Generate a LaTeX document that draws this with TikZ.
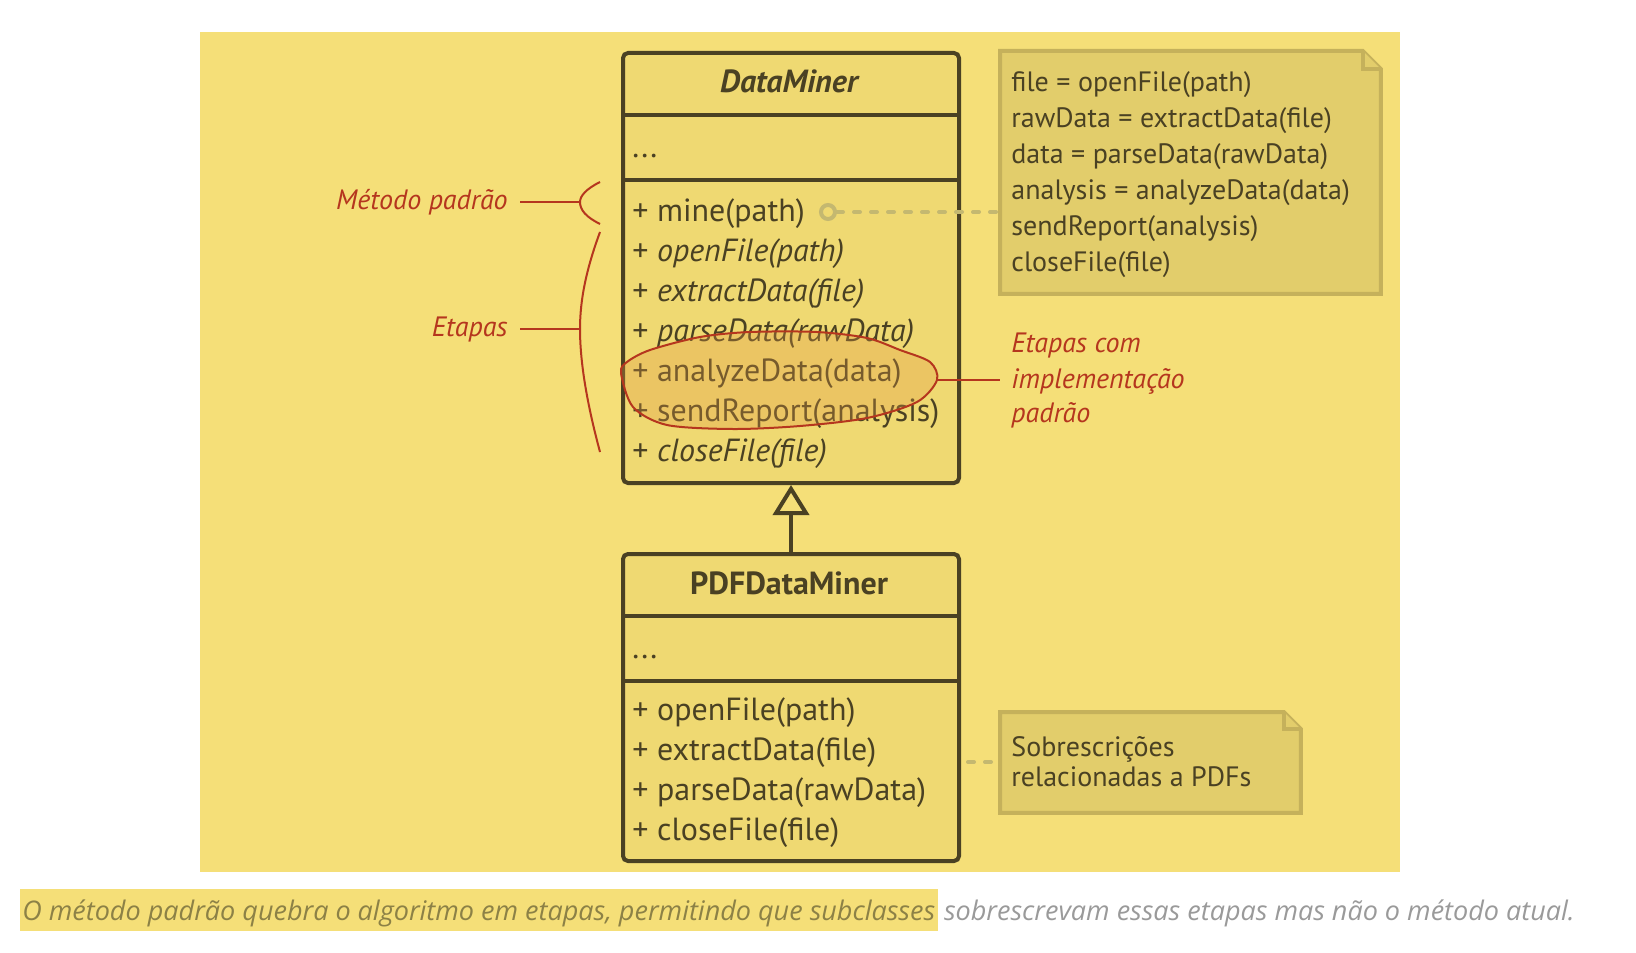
\documentclass[tikz,border=0pt]{standalone}
\usepackage{fontspec}
\setmainfont{PT Sans}
\newfontfamily\capfont{Open Sans}
\usetikzlibrary{arrows.meta}
\definecolor{bgyellow}{HTML}{F5DF78}
\definecolor{boxfill}{HTML}{EFD972}
\definecolor{ink}{HTML}{4A4123}
\definecolor{notefill}{HTML}{E2CD6B}
\definecolor{noteline}{HTML}{C5B15B}
\definecolor{dotcol}{HTML}{C4B870}
\definecolor{annred}{HTML}{B5361E}
\definecolor{ellfill}{HTML}{E29A43}
\definecolor{capolive}{HTML}{8C8146}
\definecolor{capgray}{HTML}{9A9A9A}

\tikzset{
	classbody/.style={draw=ink,fill=boxfill,line width=2pt,rounded corners=2.5pt,inner sep=0pt,anchor=north west},
	classline/.style={draw=ink,line width=2pt},
	classtitle/.style={anchor=base,inner sep=0pt,text=ink,font=\fontsize{16}{19}\selectfont\bfseries},
	member/.style={anchor=base west,inner sep=0pt,text=ink,font=\fontsize{16}{19}\selectfont},
	notebody/.style={inner sep=0pt,anchor=north west},
	noteshape/.style={draw=noteline,fill=notefill,line width=2pt},
	notetext/.style={anchor=base west,inner sep=0pt,text=ink,font=\fontsize{14}{17}\selectfont},
	annot/.style={text=annred,inner sep=0pt,font=\fontsize{14}{17}\selectfont\itshape},
	annline/.style={draw=annred,line width=1pt},
	conn/.style={draw=dotcol,line width=2pt,line cap=round,dash pattern=on 3pt off 5.5pt},
	inheritline/.style={draw=ink,line width=2pt,-{Triangle[open,length=15pt,width=18pt]}},
}

\newcommand{\memberlines}[6]
{\foreach \txt [count=\i] in {#6}
		{\node[#4] (#1-\i) at (#2,{#3+(\i-1)*#5}) {\txt};
			};
}
\newcommand{\noteshape}[2]
{\draw[noteshape] (#1.north west) -- ([xshift=-#2]#1.north east) -- ([yshift=-#2]#1.north east)
	-- (#1.south east) -- (#1.south west) -- cycle;
\draw[noteshape] ([xshift=-#2]#1.north east) -- ([xshift=-#2,yshift=-#2]#1.north east) -- ([yshift=-#2]#1.north east);
}

\begin{document}
\begin{tikzpicture}[x=0.5pt,y=-0.5pt]
\useasboundingbox (0,0) rectangle (1636,952);
\fill[bgyellow] (200,32) rectangle (1400,872);

% DataMiner
\node[classbody,minimum width=168pt,minimum height=215pt] (dm) at (621,51) {};
\draw[classline] (dm.west |- 0,115) -- (dm.east |- 0,115);
\draw[classline] (dm.west |- 0,180) -- (dm.east |- 0,180);
\node[classtitle,font=\fontsize{16}{19}\selectfont\bfseries\itshape] (dmtitle) at (789,93) {DataMiner};
\node[member] (dmattr) at (632,158) {...};
\memberlines{dmm}{632}{221}{member}{40}{+ mine(path), + \textit{openFile(path)}, + \textit{extractData(file)},
	+ \textit{parseData(rawData)}, + analyzeData(data), + sendReport(analysis), + \textit{closeFile(file)}}

% PDFDataMiner
\node[classbody,minimum width=168pt,minimum height=153.5pt] (pdf) at (621,552) {};
\draw[classline] (pdf.west |- 0,616) -- (pdf.east |- 0,616);
\draw[classline] (pdf.west |- 0,681) -- (pdf.east |- 0,681);
\node[classtitle] (pdftitle) at (789,594) {PDFDataMiner};
\node[member] (pdfattr) at (632,658) {...};
\memberlines{pdfm}{632}{720}{member}{40}{+ openFile(path), + extractData(file), + parseData(rawData), + closeFile(file)}

\draw[inheritline] (pdf.north) -- (dm.south);

% notes
\node[notebody,minimum width=190pt,minimum height=121pt] (note1) at (1000,51) {};
\noteshape{note1}{9pt}
\memberlines{n1}{1011}{91.7}{notetext}{35.9}{file = openFile(path), rawData = extractData(file), data = parseData(rawData),
	analysis = analyzeData(data), sendReport(analysis), closeFile(file)}
\node[notebody,minimum width=150pt,minimum height=50pt] (note2) at (1000,712) {};
\noteshape{note2}{8.5pt}
\node[notetext] (n2-1) at (1011,756) {Sobrescrições};
\node[notetext] (n2-2) at (1011,786) {relacionadas a PDFs};

\node[circle,draw=dotcol,fill=boxfill,line width=2pt,minimum size=7pt,inner sep=0pt] (minedot) at (828,212) {};
\draw[conn] (minedot.east) -- (minedot.east -| note1.west);
\coordinate (pdfnote) at (968,762);
\draw[conn] (pdfnote) -- (pdfnote -| note2.west);

% annotations
\node[annot,anchor=east,inner xsep=6pt] (metlbl) at (520,202) {Método padrão};
\coordinate (metbr) at (580,202);
\draw[annline] (metlbl.east) -- (metbr);
\draw[annline] (600,182) .. controls (586,189) and (580,196) .. (metbr) .. controls (580,210) and (586,217) .. (600,224);
\node[annot,anchor=east,inner xsep=6pt] (etlbl) at (520,329) {Etapas};
\coordinate (etbr) at (580,329);
\draw[annline] (etlbl.east) -- (etbr);
\draw[annline] (600,232) .. controls (586,270) and (580,300) .. (etbr) .. controls (580,360) and (586,400) .. (600,452);

\fill[ellfill,fill opacity=.3] plot[smooth cycle] coordinates {(621,373) (633,407) (667,425) (733,429) (800,426) (867,418) (917,402) (937,380) (930,362) (900,350) (867,338) (817,332) (750,332) (700,337) (650,350) (627,362)};
\draw[annline] plot[smooth cycle] coordinates {(621,373) (633,407) (667,425) (733,429) (800,426) (867,418) (917,402) (937,380) (930,362) (900,350) (867,338) (817,332) (750,332) (700,337) (650,350) (627,362)};
\coordinate (ellright) at (937,380);
\coordinate (annpt) at (1000,380);
\draw[annline] (ellright) -- (annpt);
\node[annot,anchor=base west] (ann-1) at (1011,352) {Etapas com};
\node[annot,anchor=base west] (ann-2) at (1011,388) {implementação};
\node[annot,anchor=base west] (ann-3) at (1011,422) {padrão};

% caption
\fill[bgyellow] (20,889) rectangle (938,931);
\node[anchor=base west,inner sep=0pt,text=capolive,font=\fontsize{13.5}{16}\capfont\itshape] (cap1) at (22,920)
	{O método padrão quebra o algoritmo em etapas, permitindo que subclasses};
\node[anchor=base west,inner sep=0pt,text=capgray,font=\fontsize{13.5}{16}\capfont\itshape] (cap2) at ([xshift=4pt]cap1.base east)
	{sobrescrevam essas etapas mas não o método atual.};
\end{tikzpicture}
\end{document}
